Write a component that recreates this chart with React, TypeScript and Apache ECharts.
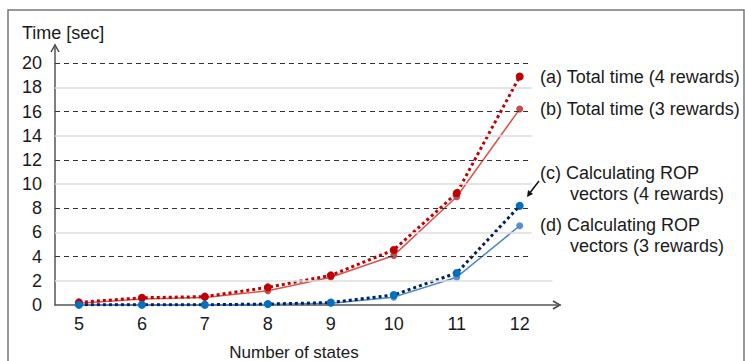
import React, { useEffect, useRef } from "react";
import * as echarts from "echarts";

const states = [5, 6, 7, 8, 9, 10, 11, 12];
const totalTime4 = [0.22, 0.6, 0.69, 1.46, 2.45, 4.55, 9.25, 18.9];
const totalTime3 = [0.15, 0.5, 0.62, 1.18, 2.3, 4.1, 8.95, 16.2];
const ropTime4 = [0.02, 0.02, 0.02, 0.08, 0.2, 0.83, 2.65, 8.2];
const ropTime3 = [0.01, 0.01, 0.01, 0.05, 0.15, 0.65, 2.3, 6.55];
const dashedLevels = [4, 8, 12, 16, 20];
const lightLevels = [2, 6, 10, 14, 18];
const seriesNames = [
  "(a) Total time (4 rewards)",
  "(b) Total time (3 rewards)",
  "(c) Calculating ROP vectors (4 rewards)",
  "(d) Calculating ROP vectors (3 rewards)",
];

const FONT = "'Liberation Sans', Arial, sans-serif";

export default function App() {
  const ref = useRef<HTMLDivElement>(null);
  useEffect(() => {
    if (!ref.current) return;
    const chart = echarts.init(ref.current, null, { renderer: "svg" });
    const pts = (ys: number[]) => states.map((x, i) => [x, ys[i]]);
    const gridLines: any[] = [
      ...dashedLevels.map((v) => [
        { coord: [4.62, v], lineStyle: { color: "#333", type: [5, 4], width: 1 } },
        { coord: [12.19, v] },
      ]),
      ...lightLevels.map((v) => [
        { coord: [4.62, v], lineStyle: { color: "#dddddd", type: "solid", width: 1.5 } },
        { coord: [v === 2 ? 12.52 : 12.19, v] },
      ]),
    ];
    const txt = (text: string, x: number, y: number, size = 18, align = "left") => ({
      type: "text",
      x,
      y,
      z: 100,
      style: {
        text,
        fontSize: size,
        fontFamily: FONT,
        fill: "#1a1a1a",
        verticalAlign: "middle",
        align,
      },
    });
    chart.setOption({
      animation: false,
      grid: { left: 55, right: 185, top: 45, bottom: 56, containLabel: false },
      xAxis: {
        type: "value",
        min: 4.62,
        max: 12.64,
        splitNumber: 8,
        axisLine: { show: true, lineStyle: { color: "#555", width: 1.5 } },
        axisTick: { show: false },
        splitLine: { show: false },
        axisLabel: {
          fontSize: 18,
          fontFamily: FONT,
          color: "#1a1a1a",
          margin: 10,
          formatter: (v: number) => (Number.isInteger(v) ? String(v) : ""),
        },
      },
      yAxis: {
        type: "value",
        min: 0,
        max: 21.5,
        interval: 2,
        axisLine: { show: true, onZero: false, lineStyle: { color: "#555", width: 1.5 } },
        axisTick: { show: false },
        splitLine: { show: false },
        axisLabel: {
          fontSize: 18,
          fontFamily: FONT,
          color: "#1a1a1a",
          margin: 13,
          formatter: (v: number) => (v <= 20 ? String(v) : ""),
        },
      },
      series: [
        {
          type: "line",
          name: "grid",
          data: [],
          silent: true,
          markLine: { silent: true, symbol: "none", label: { show: false }, data: gridLines },
        },
        {
          type: "line",
          name: seriesNames[1],
          data: pts(totalTime3),
          symbol: "circle",
          symbolSize: 7,
          itemStyle: { color: "#c0504d" },
          lineStyle: { color: "#d9534f", width: 1.5 },
          z: 3,
        },
        {
          type: "line",
          name: seriesNames[3],
          data: pts(ropTime3),
          symbol: "circle",
          symbolSize: 7,
          itemStyle: { color: "#5b8fd0" },
          lineStyle: { color: "#4a86c8", width: 1.5 },
          z: 3,
        },
        {
          type: "line",
          name: seriesNames[0],
          data: pts(totalTime4),
          symbol: "circle",
          symbolSize: 8,
          itemStyle: { color: "#c00000" },
          lineStyle: { color: "#c00000", width: 3, type: [3, 3] },
          z: 4,
        },
        {
          type: "line",
          name: seriesNames[2],
          data: pts(ropTime4),
          symbol: "circle",
          symbolSize: 8,
          itemStyle: { color: "#0070c0" },
          lineStyle: { color: "#002060", width: 3, type: [3, 3] },
          z: 4,
        },
      ],
      graphic: [
        {
          type: "rect",
          shape: { x: 8, y: 10, width: 736, height: 400 },
          style: { fill: "none", stroke: "#777", lineWidth: 1.5 },
          silent: true,
        },
        {
          type: "polyline",
          shape: { points: [[51, 52], [55, 45], [59, 52]] },
          style: { fill: "none", stroke: "#444", lineWidth: 1.5 },
        },
        {
          type: "polyline",
          shape: { points: [[553, 301], [560, 305], [553, 309]] },
          style: { fill: "none", stroke: "#444", lineWidth: 1.5 },
        },
        txt("Time [sec]", 22, 33),
        txt("Number of states", 294, 352, 17, "center"),
        txt("(a) Total time (4 rewards)", 540, 77),
        txt("(b) Total time (3 rewards)", 540, 109),
        txt("(c) Calculating ROP", 540, 173),
        txt("vectors (4 rewards)", 570, 194),
        txt("(d) Calculating ROP", 540, 225),
        txt("vectors (3 rewards)", 570, 246),
        {
          type: "line",
          shape: { x1: 539, y1: 181, x2: 529, y2: 194 },
          style: { stroke: "#111", lineWidth: 1.5 },
        },
        {
          type: "polygon",
          shape: { points: [[527, 197], [533, 194], [528, 190]] },
          style: { fill: "#111" },
        },
      ],
    });
    return () => chart.dispose();
  }, []);
  return (
    <div
      ref={ref}
      style={{ position: "fixed", left: 0, top: 0, width: 745, height: 361, background: "#fff" }}
    />
  );
}
